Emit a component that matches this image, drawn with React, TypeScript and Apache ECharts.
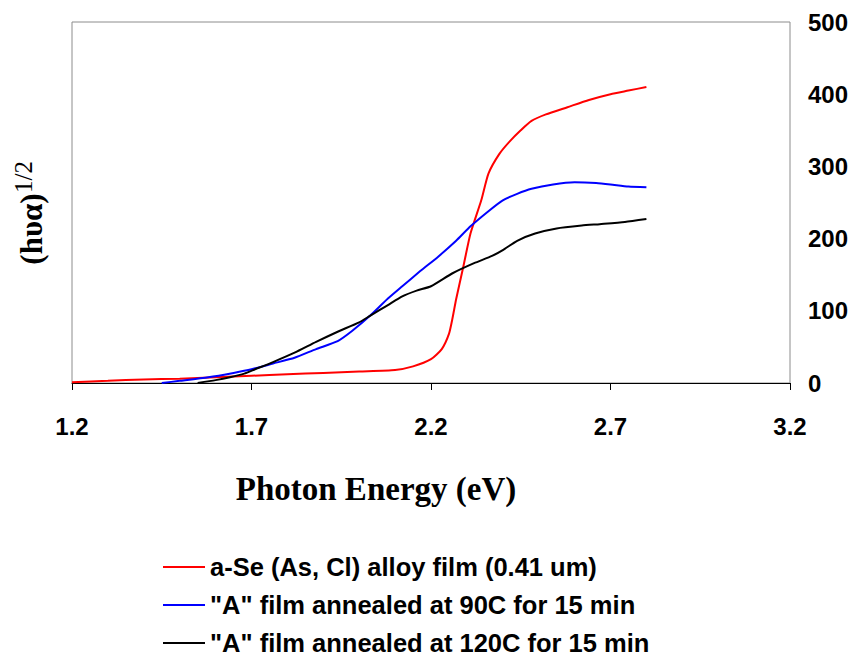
import React, { useEffect, useRef } from "react";
import * as echarts from "echarts";

const seriesNames = [
  "a-Se (As, Cl) alloy film (0.41 um)",
  "\"A\" film annealed at 90C for 15 min",
  "\"A\" film annealed at 120C for 15 min",
];
const seriesColors = ["#FF0000", "#0000FF", "#000000"];

const redX = [1.2, 1.3, 1.4, 1.5, 1.6, 1.7, 1.8, 1.9, 2.0, 2.1, 2.15, 2.2, 2.23, 2.25, 2.26, 2.27, 2.29, 2.31, 2.34, 2.36, 2.39, 2.42, 2.45, 2.48, 2.52, 2.58, 2.64, 2.7, 2.75, 2.8];
const redY = [1, 3, 5, 6, 8, 10, 12, 14, 16, 18, 23, 33, 47, 68, 90, 116, 161, 207, 253, 290, 317, 335, 350, 363, 372, 382, 392, 400, 405, 410];

const blueX = [1.45, 1.5, 1.58, 1.65, 1.7, 1.76, 1.82, 1.88, 1.94, 1.98, 2.03, 2.08, 2.12, 2.17, 2.22, 2.27, 2.31, 2.36, 2.4, 2.44, 2.48, 2.54, 2.6, 2.66, 2.7, 2.75, 2.8];
const blueY = [0, 3, 8, 14, 19, 27, 35, 47, 58, 72, 93, 117, 134, 155, 175, 197, 217, 238, 253, 262, 269, 275, 278, 277, 275, 272, 271];

const blackX = [1.55, 1.6, 1.64, 1.68, 1.71, 1.76, 1.82, 1.88, 1.94, 2.0, 2.03, 2.08, 2.12, 2.16, 2.2, 2.26, 2.32, 2.37, 2.4, 2.44, 2.49, 2.55, 2.62, 2.67, 2.74, 2.8];
const blackY = [0, 4, 8, 13, 19, 29, 42, 57, 71, 84, 93, 108, 120, 128, 134, 152, 166, 176, 184, 197, 207, 214, 218, 220, 223, 227];

const xTitle = "Photon Energy (eV)";
const yTitleMain = "(hυα)";
const yTitleSup = "1/2";

const zip = (xs: number[], ys: number[]) => xs.map((x, i) => [x, ys[i]]);

export default function App() {
  const ref = useRef<HTMLDivElement>(null);
  useEffect(() => {
    document.body.style.margin = "0";
    const chart = echarts.init(ref.current!, null, { renderer: "svg" });
    const sans = "'Liberation Sans', Arial, sans-serif";
    const serif = "'Liberation Serif', 'Times New Roman', serif";
    const data = [zip(redX, redY), zip(blueX, blueY), zip(blackX, blackY)];
    chart.setOption({
      animation: false,
      backgroundColor: "#ffffff",
      grid: {
        left: 72,
        right: 67,
        top: 22,
        height: 361,
        show: true,
        borderColor: "#8c8c8c",
        borderWidth: 1,
      },
      xAxis: {
        type: "value",
        min: 1.2,
        max: 3.2,
        interval: 0.5,
        axisLine: { show: true, lineStyle: { color: "#000", width: 1 } },
        axisTick: { show: true, length: 7, inside: false, lineStyle: { color: "#000" } },
        splitLine: { show: false },
        axisLabel: {
          margin: 31,
          fontFamily: sans,
          fontWeight: "bold",
          fontSize: 24,
          color: "#000",
          formatter: (v: number) => v.toFixed(1),
        },
      },
      yAxis: {
        type: "value",
        position: "right",
        min: 0,
        max: 500,
        interval: 100,
        axisLine: { show: false },
        axisTick: { show: false },
        splitLine: { show: false },
        axisLabel: {
          margin: 18,
          fontFamily: sans,
          fontWeight: "bold",
          fontSize: 24,
          color: "#000",
        },
      },
      legend: {
        orient: "vertical",
        left: 163,
        top: 554,
        height: 107,
        padding: 0,
        itemWidth: 42,
        itemHeight: 2,
        itemGap: 12,
        icon: "rect",
        textStyle: { fontFamily: sans, fontWeight: "bold", fontSize: 25.5, color: "#000" },
        data: seriesNames,
      },
      graphic: [
        {
          type: "text",
          x: 376,
          y: 489,
          style: {
            text: xTitle,
            textAlign: "center",
            textVerticalAlign: "middle",
            fontFamily: serif,
            fontWeight: "bold",
            fontSize: 33,
            fill: "#000",
          },
        },
        {
          type: "text",
          x: 31,
          y: 229,
          rotation: Math.PI / 2,
          style: {
            text: yTitleMain,
            textAlign: "center",
            textVerticalAlign: "middle",
            fontFamily: serif,
            fontWeight: "bold",
            fontSize: 31,
            fill: "#000",
          },
        },
        {
          type: "text",
          x: 23,
          y: 177,
          rotation: Math.PI / 2,
          style: {
            text: yTitleSup,
            textAlign: "center",
            textVerticalAlign: "middle",
            fontFamily: serif,
            fontWeight: "normal",
            fontSize: 25,
            fill: "#000",
          },
        },
      ],
      series: data.map((d, i) => ({
        name: seriesNames[i],
        type: "line",
        data: d,
        showSymbol: false,
        symbol: "none",
        smooth: 0.2,
        lineStyle: { color: seriesColors[i], width: 2 },
        itemStyle: { color: seriesColors[i] },
      })),
    });
    return () => chart.dispose();
  }, []);
  return <div ref={ref} style={{ width: 857, height: 661 }} />;
}
